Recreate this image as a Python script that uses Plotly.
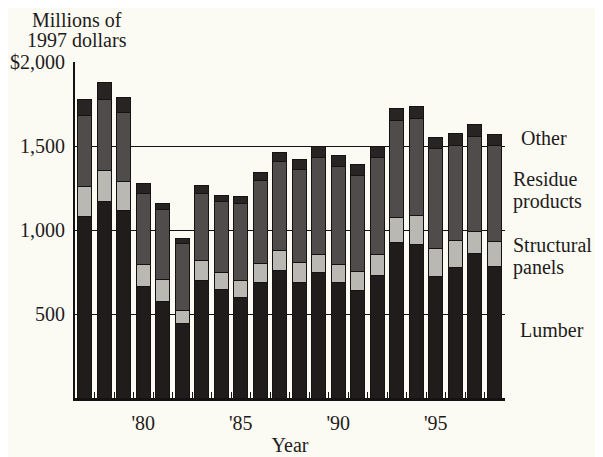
import plotly.graph_objects as go

years = list(range(1977, 1999))
lumber = [1083, 1168, 1119, 663, 573, 445, 702, 649, 597, 689, 762, 689,
          746, 686, 643, 732, 925, 913, 726, 778, 861, 782]
panels = [179, 189, 173, 135, 133, 75, 115, 99, 105, 113, 115, 118,
          111, 112, 109, 125, 148, 172, 165, 162, 129, 152]
residue = [422, 423, 412, 420, 417, 401, 401, 420, 457, 496, 530, 556,
           576, 579, 575, 576, 582, 580, 595, 566, 569, 568]
other = [94, 99, 88, 60, 36, 29, 46, 38, 43, 47, 53, 58,
         67, 65, 66, 67, 69, 69, 69, 69, 72, 69]

series_names = ["Lumber", "Structural panels", "Residue products", "Other"]
series_values = [lumber, panels, residue, other]
series_colors = ["#1f1c1b", "#b9b8b3", "#4f4c4b", "#272423"]

ytick_vals = [500, 1000, 1500, 2000]
ytick_text = ["500", "1,000", "1,500", "$2,000"]
xtick_vals = [1980, 1985, 1990, 1995]
xtick_text = ["'80", "'85", "'90", "'95"]
# small separator ticks between the year bars
sep_ticks = [y - 0.5 for y in years] + [years[-1] + 0.5]

FONT = "Liberation Serif, Times New Roman, serif"
FS = 20
BG = "#fbfaf3"
INK = "#1e1c1b"

fig = go.Figure()
for name, vals, col in zip(series_names, series_values, series_colors):
    fig.add_trace(go.Bar(
        x=years, y=vals, name=name,
        marker=dict(color=col, line=dict(color="#141212", width=1)),
        showlegend=False,
    ))

# right-side series labels, one annotation per text line (tight leading)
label_lines = [
    ("Lumber", 1.033, 405),
    ("Structural", 1.016, 910),
    ("panels", 1.016, 778),
    ("Residue", 1.016, 1305),
    ("products", 1.016, 1172),
    ("Other", 1.035, 1548),
]
for txt, px, py in label_lines:
    fig.add_annotation(x=px, y=py, xref="paper", yref="y", text=txt,
                       showarrow=False, xanchor="left", yanchor="middle",
                       borderpad=0,
                       font=dict(family=FONT, size=FS, color=INK))

# unit label at top-left
for txt, py in [("Millions of", 1.124), ("1997 dollars", 1.066)]:
    fig.add_annotation(x=0.005, y=py, xref="paper", yref="paper", text=txt,
                       showarrow=False, xanchor="center", yanchor="middle",
                       borderpad=0,
                       font=dict(family=FONT, size=FS, color=INK))

fig.update_layout(
    width=595, height=449,
    margin=dict(l=67, r=98, t=54, b=59),
    paper_bgcolor=BG, plot_bgcolor=BG,
    barmode="stack", bargap=0.28,
    font=dict(family=FONT, size=FS, color=INK),
    xaxis=dict(
        range=[1976.5, 1998.55],
        tickmode="array", tickvals=xtick_vals, ticktext=xtick_text,
        ticks="inside", ticklen=0, tickwidth=0, tickcolor=BG,
        showgrid=False, ticklabelstandoff=5,
        showline=True, linecolor="#141212", linewidth=3,
        tickfont=dict(family=FONT, size=FS, color=INK),
        title=dict(text="Year", font=dict(family=FONT, size=FS, color=INK), standoff=5),
        minor=dict(ticks="inside", tickmode="array", tickvals=sep_ticks,
                   ticklen=6, tickcolor="#141212", tickwidth=1, showgrid=False),
        zeroline=False, automargin=False, layer="above traces",
    ),
    yaxis=dict(
        range=[0, 2002],
        tickmode="array", tickvals=ytick_vals, ticktext=ytick_text,
        ticks="", showgrid=True, gridcolor="#141212", gridwidth=1.3,
        showline=True, linecolor="#141212", linewidth=2,
        ticklabelstandoff=4,
        tickfont=dict(family=FONT, size=FS, color=INK),
        zeroline=False, automargin=False,
    ),
)

fig.write_html("out.html")
